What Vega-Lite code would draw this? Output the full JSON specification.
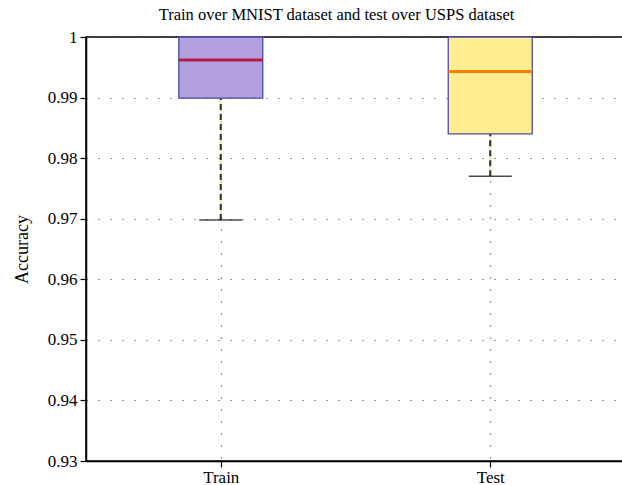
{
  "$schema": "https://vega.github.io/schema/vega-lite/v6.json",
  "autosize": "none",
  "padding": {"left": 86, "top": 37, "right": 0, "bottom": 24},
  "width": 539,
  "height": 424,
  "background": "white",
  "title": {
    "text": "Train over MNIST dataset and test over USPS dataset",
    "font": "Liberation Serif",
    "fontSize": 16.5,
    "fontWeight": "normal",
    "color": "black",
    "anchor": "middle",
    "dx": -19,
    "offset": 5
  },
  "config": {
    "view": {"stroke": "black", "strokeWidth": 1.5},
    "axis": {
      "labelFont": "Liberation Serif",
      "titleFont": "Liberation Serif",
      "labelFontSize": 17,
      "titleFontSize": 18,
      "titleFontWeight": "normal",
      "labelColor": "black",
      "titleColor": "black",
      "domainColor": "black",
      "domainWidth": 1.5,
      "tickColor": "black",
      "tickWidth": 1.2,
      "tickSize": 6,
      "grid": true,
      "gridColor": "#333333",
      "gridDash": [1, 11],
      "gridWidth": 1.2
    }
  },
  "data": {
    "values": [
      {"set": "Train", "lower": 0.9698, "q1": 0.9899, "median": 0.9962, "q3": 1.0, "upper": 1.0},
      {"set": "Test", "lower": 0.9770, "q1": 0.9840, "median": 0.9943, "q3": 1.0, "upper": 1.0}
    ]
  },
  "encoding": {
    "x": {
      "field": "set",
      "type": "nominal",
      "sort": ["Train", "Test"],
      "scale": {"type": "point", "padding": 0.5},
      "axis": {"title": null, "labelAngle": 0, "labelPadding": 2}
    }
  },
  "layer": [
    {
      "mark": {"type": "rule", "color": "#f3eeb0", "strokeWidth": 2},
      "encoding": {
        "y": {"field": "lower", "type": "quantitative"},
        "y2": {"field": "q1"}
      }
    },
    {
      "mark": {"type": "rule", "color": "#2e2e22", "strokeWidth": 2, "strokeDash": [6, 4]},
      "encoding": {
        "y": {"field": "lower", "type": "quantitative"},
        "y2": {"field": "q1"}
      }
    },
    {
      "mark": {"type": "tick", "color": "black", "size": 43, "thickness": 1.5},
      "encoding": {
        "y": {"field": "lower", "type": "quantitative"}
      }
    },
    {
      "mark": {"type": "bar", "size": 84, "stroke": "#4b4ba3", "strokeWidth": 1.3, "opacity": 1},
      "encoding": {
        "y": {
          "field": "q1",
          "type": "quantitative",
          "scale": {"domain": [0.93, 1.0], "nice": false, "zero": false},
          "axis": {
            "title": "Accuracy",
            "values": [0.93, 0.94, 0.95, 0.96, 0.97, 0.98, 0.99, 1.0],
            "format": "~g",
            "labelPadding": 3,
            "titlePadding": 16
          }
        },
        "y2": {"field": "q3"},
        "fill": {
          "field": "set",
          "type": "nominal",
          "scale": {"domain": ["Train", "Test"], "range": ["#b39ee0", "#fdec90"]},
          "legend": null
        }
      }
    },
    {
      "mark": {"type": "tick", "size": 84, "thickness": 3, "opacity": 1},
      "encoding": {
        "y": {"field": "median", "type": "quantitative"},
        "color": {
          "field": "set",
          "type": "nominal",
          "scale": {"domain": ["Train", "Test"], "range": ["#b21c4a", "#f57f0a"]},
          "legend": null
        }
      }
    }
  ],
  "resolve": {"scale": {"color": "independent"}}
}
